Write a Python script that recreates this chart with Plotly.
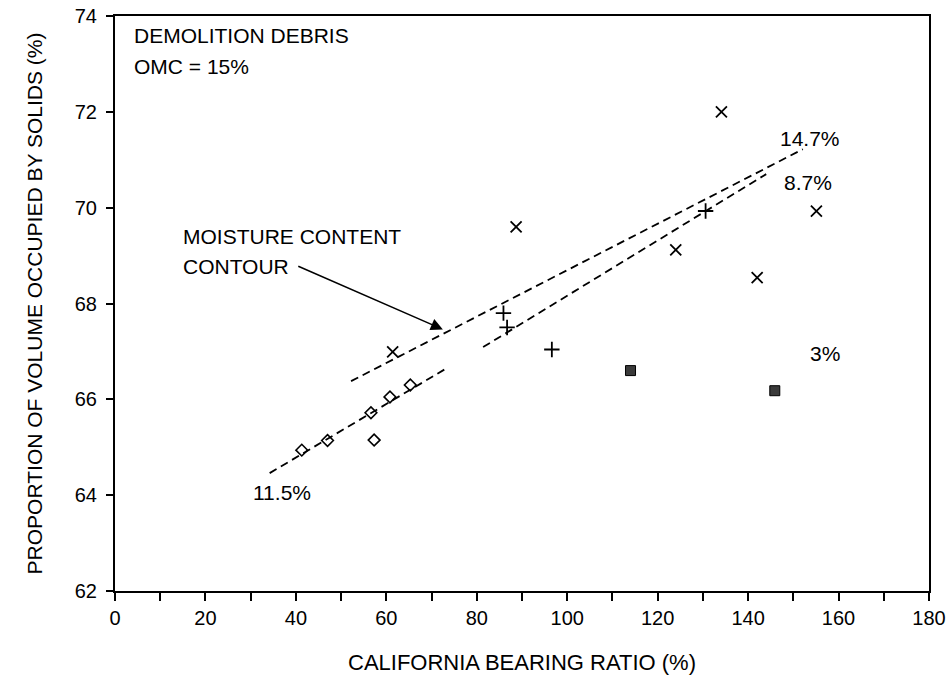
import plotly.graph_objects as go

# ---- data ----
x_147 = [134.1, 88.7, 124.0, 155.1, 142.0, 61.4]
y_147 = [72.00, 69.60, 69.12, 69.93, 68.54, 66.99]

x_87 = [85.9, 86.7, 96.6, 130.6]
y_87 = [67.80, 67.50, 67.04, 69.93]

x_115 = [41.3, 47.0, 56.6, 57.3, 60.8, 65.3]
y_115 = [64.94, 65.14, 65.72, 65.15, 66.05, 66.30]

x_3 = [114.0, 145.9]
y_3 = [66.60, 66.18]

# moisture content contours (end points)
contour_147_x = [52.2, 152.1]
contour_147_y = [66.38, 71.22]
contour_87_x = [81.4, 144.0]
contour_87_y = [67.09, 70.70]
contour_115_x = [34.2, 73.0]
contour_115_y = [64.46, 66.63]

x_ticks = [0, 20, 40, 60, 80, 100, 120, 140, 160, 180]
y_ticks = [62, 64, 66, 68, 70, 72, 74]

FONT = "Liberation Sans, Arial, Helvetica, sans-serif"

fig = go.Figure()

dash = "8px,5px"
for cx, cy in [(contour_147_x, contour_147_y), (contour_87_x, contour_87_y),
               (contour_115_x, contour_115_y)]:
    fig.add_trace(go.Scatter(x=cx, y=cy, mode="lines",
                             line=dict(color="black", width=1.8, dash=dash),
                             showlegend=False, hoverinfo="skip"))

fig.add_trace(go.Scatter(x=x_147, y=y_147, mode="markers", name="14.7%",
                         marker=dict(symbol="x-thin-open", size=11, color="black",
                                     line=dict(color="black", width=1.8))))
fig.add_trace(go.Scatter(x=x_87, y=y_87, mode="markers", name="8.7%",
                         marker=dict(symbol="cross-thin-open", size=11, color="black",
                                     line=dict(color="black", width=1.8))))
fig.add_trace(go.Scatter(x=x_115, y=y_115, mode="markers", name="11.5%",
                         marker=dict(symbol="diamond-open", size=9,
                                     color="black",
                                     line=dict(color="black", width=1.6))))
fig.add_trace(go.Scatter(x=x_3, y=y_3, mode="markers", name="3%",
                         marker=dict(symbol="square", size=10, color="#3a3a3a",
                                     line=dict(color="black", width=1))))

ann_font = dict(family=FONT, size=21, color="black")
annotations = [
    dict(x=3.8, y=73.60, text="DEMOLITION DEBRIS", xanchor="left"),
    dict(x=3.8, y=72.94, text="OMC = 15%", xanchor="left"),
    dict(x=14.6, y=69.39, text="MOISTURE CONTENT", xanchor="left"),
    dict(x=14.6, y=68.77, text="CONTOUR", xanchor="left"),
    dict(x=153.6, y=71.45, text="14.7%", xanchor="center"),
    dict(x=153.2, y=70.52, text="8.7%", xanchor="center"),
    dict(x=157.1, y=66.96, text="3%", xanchor="center"),
    dict(x=37.0, y=64.05, text="11.5%", xanchor="center"),
]
for a in annotations:
    fig.add_annotation(xref="x", yref="y", showarrow=False, yanchor="middle",
                       font=ann_font, **a)

# arrow pointing to the contour
fig.add_annotation(xref="x", yref="y", axref="x", ayref="y",
                   x=72.5, y=67.46, ax=40.2, ay=68.79, text="",
                   showarrow=True, arrowhead=2, arrowsize=1.6,
                   arrowwidth=1.5, arrowcolor="black")

fig.update_layout(
    width=952, height=677,
    margin=dict(l=115, r=23, t=16, b=86, autoexpand=False),
    paper_bgcolor="white", plot_bgcolor="white",
    showlegend=False,
    font=dict(family=FONT, color="black", size=20),
)
fig.update_xaxes(
    range=[0, 180], tickvals=x_ticks, ticktext=[str(v) for v in x_ticks],
    ticks="outside", ticklen=8, tickwidth=1.5, tickcolor="black",
    minor=dict(tickmode="linear", tick0=0, dtick=10, ticks="outside",
               ticklen=8, tickwidth=1.5, tickcolor="black", showgrid=False),
    showline=True, linecolor="black", linewidth=2, mirror=True,
    showgrid=False, zeroline=False, automargin=False,
    tickfont=dict(family=FONT, size=20), ticklabelstandoff=0,
    ticklabeloverflow="allow",
    title=dict(text="CALIFORNIA BEARING RATIO (%)", standoff=27,
               font=dict(family=FONT, size=22)),
)
fig.update_yaxes(
    range=[62, 74], tickvals=y_ticks, ticktext=[str(v) for v in y_ticks],
    ticks="outside", ticklen=7, tickwidth=1.5, tickcolor="black",
    showline=True, linecolor="black", linewidth=2, mirror=True,
    showgrid=False, zeroline=False, automargin=False,
    tickfont=dict(family=FONT, size=20), ticklabelstandoff=5,
    ticklabeloverflow="allow",
    title=dict(text="PROPORTION OF VOLUME OCCUPIED BY SOLIDS (%)", standoff=26,
               font=dict(family=FONT, size=21)),
)

# remove the default 8px page margin so the figure fills the window exactly
fig.write_html("out.html", config={"displayModeBar": False},
               post_script="document.body.style.margin='0';")
